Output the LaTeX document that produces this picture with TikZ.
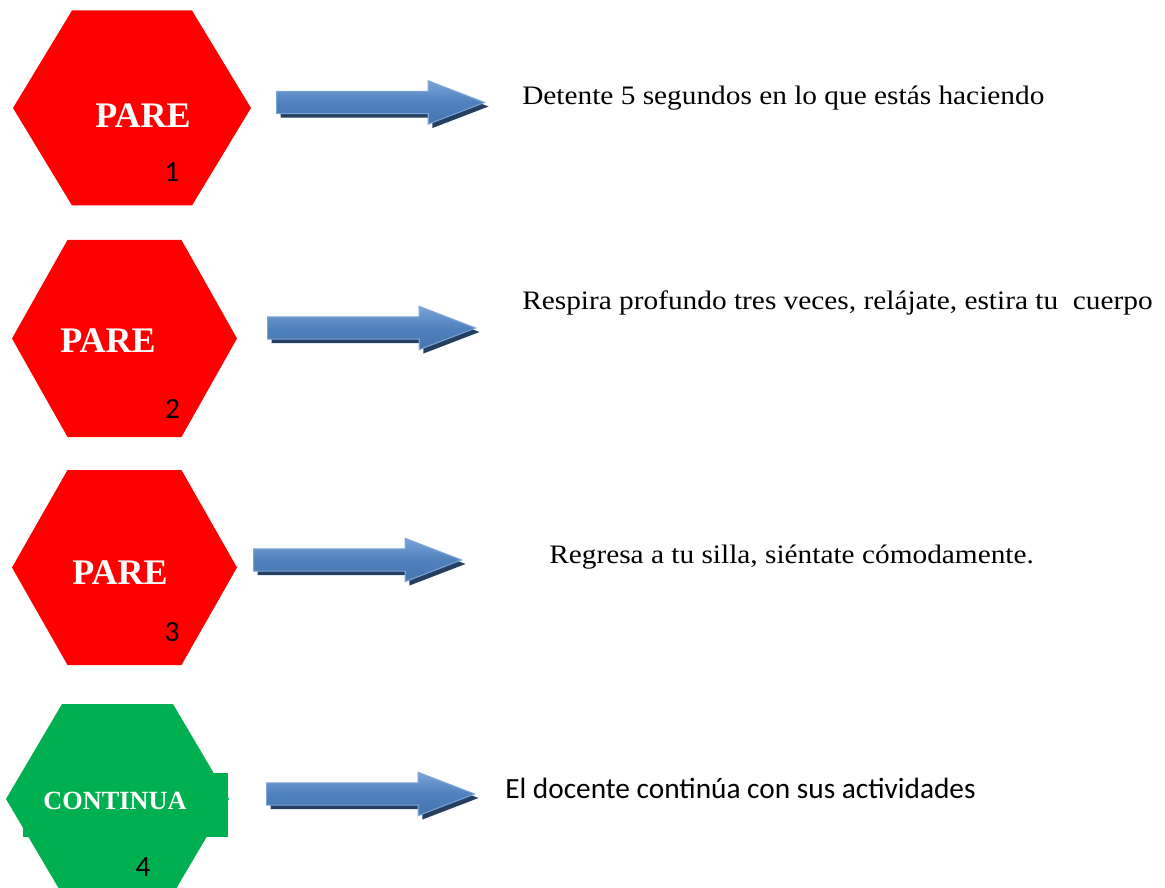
\documentclass[tikz,border=0pt]{standalone}
\usepackage{fontspec}
\setmainfont{Liberation Serif}
\newfontfamily\calibri{Carlito}
\newfontfamily\wideserif[FakeStretch=1.1]{Liberation Serif}
\usetikzlibrary{shapes}
\usetikzlibrary{shadows}

\definecolor{parered}{HTML}{FF0000}
\definecolor{okgreen}{HTML}{00B050}
\definecolor{arrowblue}{HTML}{4F81BD}
\definecolor{arrowtop}{HTML}{7AA3D8}
\definecolor{arrowbot}{HTML}{4675AE}
\definecolor{arrowdark}{HTML}{243F60}

\begin{document}
\begin{tikzpicture}[x=0.75pt, y=-0.75pt,
    blockarrow/.style = {single arrow, draw=arrowtop, line width=0.8pt,
      top color=arrowtop, bottom color=arrowbot, middle color=arrowblue,
      inner sep=7.9pt, single arrow head extend=7.9pt,
      single arrow tip angle=42, minimum height=156pt,
      drop shadow={shadow xshift=3pt, shadow yshift=-3pt, fill=arrowdark, opacity=1}},
    signtext/.style = {text=white, font=\bfseries\fontsize{27}{30}\selectfont},
    signnum/.style = {font=\calibri\fontsize{22}{24}\selectfont},
    steptext/.style = {anchor=base west, inner sep=0pt,
      font=\wideserif\fontsize{20}{24}\selectfont}]
    \useasboundingbox (0,0) rectangle (1165,888);

    % the four signs
    \foreach \cx/\cy/\hw/\tw/\hv/\fillcol in
      {132/108/119/60/97.5/parered, 124.5/338.5/112.5/57/98.5/parered,
       124.5/567.5/112.5/57/97.5/parered, 117.5/799/111.5/55.5/95/okgreen}
      \fill[\fillcol] (\cx-\hw,\cy) -- (\cx-\tw,\cy-\hv) -- (\cx+\tw,\cy-\hv)
        -- (\cx+\hw,\cy) -- (\cx+\tw,\cy+\hv) -- (\cx-\tw,\cy+\hv) -- cycle;
    \fill[okgreen] (23,773) rectangle (228,837);

    \node[signtext] (pare1) at (143,116) {PARE};
    \node[signtext] (pare2) at (108,341) {PARE};
    \node[signtext] (pare3) at (120,573) {PARE};
    \node[signtext, font=\bfseries\fontsize{19.7}{22}\selectfont] (cont) at (115,801) {CONTINUA};

    \node[signnum] (num1) at (172,172.5) {1};
    \node[signnum] (num2) at (172.5,408.5) {2};
    \node[signnum] (num3) at (172,632) {3};
    \node[signnum] (num4) at (143,867.5) {4};

    % arrows
    \node[blockarrow, anchor=tail] (arr1) at (276,102.5) {};
    \node[blockarrow, anchor=tail] (arr2) at (267,328) {};
    \node[blockarrow, anchor=tail] (arr3) at (253,560) {};
    \node[blockarrow, anchor=tail] (arr4) at (266,794) {};

    % what to do
    \node[steptext] (step1) at (522,105) {Detente 5 segundos en lo que estás haciendo};
    \node[steptext] (step2) at (522,310) {Respira profundo tres veces, relájate, estira tu~ cuerpo};
    \node[steptext] (step3) at (549,563) {Regresa a tu silla, siéntate cómodamente.};
    \node[steptext, font=\calibri\fontsize{22}{26}\selectfont] (step4) at (505,798) {El docente continúa con sus actividades};
\end{tikzpicture}
\end{document}
